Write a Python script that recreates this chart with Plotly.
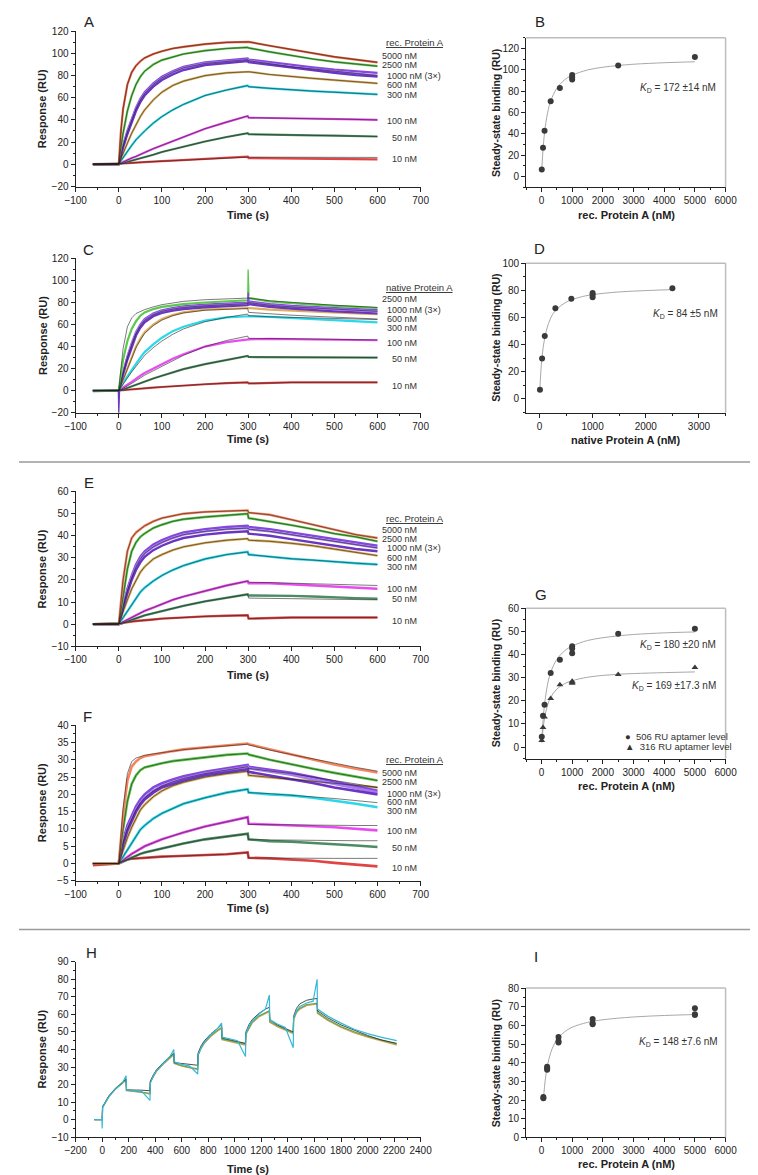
import plotly.graph_objects as go

W, H = 758, 1175
FONT = "Liberation Sans, Arial, sans-serif"

# ---------------- sensorgram time grid (s) ----------------
T = [-60, 0, 5, 10, 20, 30, 40, 50, 60, 80, 100, 125, 150, 200, 250, 299, 301, 350, 400, 450, 500, 550, 600]
CONC_LABELS = ["5000 nM", "2500 nM", "1000 nM (3×)", "600 nM", "300 nM", "100 nM", "50 nM", "10 nM"]
C_LABELS = ["2500 nM", "1000 nM (3×)", "600 nM", "300 nM", "100 nM", "50 nM", "10 nM"]

# ---------------- Panel A (rec. Protein A) ----------------
A_5000 = [0, 0, 30, 50, 72, 83, 89, 93, 96, 99.5, 102, 104.5, 106, 108.5, 110, 111, 110.5, 107, 103.5, 100, 97, 94.5, 92]
A_2500 = [0, 0, 15, 28, 48, 62, 72, 79, 84, 90, 94, 97, 99.5, 102.5, 104.5, 105.5, 105, 101.5, 98, 95, 92.5, 90.5, 88.5]
A_1000a = [0, 0, 9, 17, 30, 41, 51, 59, 65, 73, 79, 84, 88, 92, 94, 95.5, 94.5, 92, 89.5, 87.5, 85.5, 84, 82.5]
A_1000b = [0, 0, 8, 16, 29, 40, 50, 58, 64, 72, 78, 83, 87, 91, 93, 94.5, 93.5, 90.5, 88, 86, 84, 82, 80]
A_1000c = [-0.5, 0, 7, 15, 27, 38, 48, 56, 62, 70, 76, 81, 85, 89.5, 91.5, 93, 92, 89.5, 87, 84.5, 82.5, 80.5, 79]
A_600 = [0, 0, 5, 10, 19, 28, 36, 43, 49, 58, 65, 71, 75, 80, 82.5, 84, 83.5, 81, 79, 77.5, 76, 74.5, 73]
A_300 = [0, 0, 3, 6, 12, 17, 22, 26, 30, 37, 43, 49, 54, 62, 67, 71, 70, 68.5, 67, 66, 65, 64, 63]
A_100 = [0, 0, 1, 2, 3.5, 5.5, 7, 9, 10.5, 14, 17, 21, 25, 32, 38, 43.5, 42, 41.8, 41.5, 41, 40.8, 40.4, 40]
A_50 = [0, 0, 0.5, 1, 2, 3, 4, 5, 6, 8.5, 11, 13.5, 16, 20.5, 24.5, 28, 27, 26.5, 26.2, 26, 25.7, 25.4, 25]
A_10 = [-0.5, 0, 0.2, 0.5, 0.8, 1.2, 1.5, 1.8, 2, 2.3, 2.7, 3.2, 3.7, 4.7, 5.7, 6.8, 5.5, 5.3, 5.1, 5, 4.8, 4.6, 4.4]
A_10_FIT = [0, 0, 0.2, 0.5, 0.8, 1.2, 1.5, 1.8, 2, 2.3, 2.7, 3.2, 3.7, 4.7, 5.7, 6.5, 6.4, 6.3, 6.3, 6.2, 6.2, 6.1, 6.1]

# ---------------- Panel C (native Protein A) ----------------
C_2500 = [0, 0, 15, 28, 45, 56, 63, 68, 71, 74, 76, 77.5, 78.5, 80, 81, 82, 84, 81, 79.5, 78, 77, 76, 75]
C_2500_FIT = [0, 0, 20, 38, 58, 66, 70, 72, 73.5, 76, 78, 79.5, 81, 82.5, 83.5, 84.5, 84, 81.5, 80, 78.5, 77.5, 76.5, 75.5]
C_1000a = [0, 0, 9, 17, 31, 43, 53, 60, 65, 70, 73, 75, 76.5, 78, 79, 80, 81, 78.5, 77, 76, 75, 74, 73]
C_1000b = [0, 0, 8, 16, 30, 42, 52, 59, 64, 69, 72, 74, 75.5, 77, 78, 79, 80, 77.5, 76, 75, 74, 73, 72]
C_1000c = [-0.5, 0, 7, 15, 28, 40, 50, 57, 62, 67.5, 70.5, 72.5, 74, 75.5, 76.5, 77.5, 78.5, 76, 74.5, 73, 72, 71, 70]
C_600 = [0, 0, 5, 10, 20, 30, 40, 47, 53, 60, 65, 68.5, 71, 73.5, 74.5, 75.5, 75, 73.5, 72.5, 71.5, 71, 70, 69.5]
C_600_FIT = [0, 0, 5, 10, 20, 30, 39, 46, 52, 59, 64, 68, 70.5, 73, 74, 74.5, 71, 69.5, 68.5, 67.5, 66.5, 65.5, 65]
C_300 = [0, 0, 3, 7, 13, 19, 25, 30, 35, 42, 48, 54, 58, 63.5, 66.5, 68, 67.5, 67, 66, 65, 64, 63, 62]
C_300_FIT = [0, 0, 3, 6, 12, 17, 22, 27, 32, 39, 45, 51, 56, 62.5, 66.5, 69.5, 68, 67, 66.5, 66, 65.5, 65, 64.5]
C_100 = [0, 0, 1.5, 3, 5.5, 8, 11, 13.5, 16, 20, 24, 29, 33, 40, 44, 47, 46.5, 47, 46.7, 46.5, 46.2, 46, 45.7]
C_100_FIT = [0, 0, 1, 2, 4, 6.5, 9, 11.5, 14, 18, 22, 27, 32, 40, 45.5, 49.5, 47.5, 47.3, 47, 46.8, 46.5, 46.3, 46]
C_50 = [0, 0, 0.5, 1, 2.5, 4, 5.5, 7, 8.5, 11, 13.5, 16.5, 19.5, 24, 28, 31.5, 30.5, 30.5, 30.3, 30.2, 30.1, 30, 30]
C_10 = [0, 0, 0.2, 0.4, 0.8, 1.2, 1.6, 2, 2.3, 2.8, 3.3, 4, 4.6, 5.8, 6.8, 7.5, 6.5, 7.2, 7.4, 7.5, 7.5, 7.5, 7.5]
C_SPIKE_T = [299, 300, 302]
C_SPIKE_2500 = [82, 110, 86]
C_SPIKE_1000 = [79, 89, 81]
C_DIP_T = [-1, 0, 2]
C_DIP = [0, -20, 2]

# ---------------- Panel E (rec. Protein A, 506 RU) ----------------
E_5000 = [0, 0, 10, 20, 33, 39, 41.5, 43, 44.5, 46.5, 48, 49, 50, 50.8, 51, 51.5, 50.5, 49.5, 47.3, 45, 42.8, 40.5, 39]
E_2500 = [0, 0, 6, 13, 25, 33, 37, 39.5, 41, 43.5, 45, 46.5, 47.5, 48.5, 49.2, 50, 48, 46.5, 44.8, 43, 41, 39.5, 37.5]
E_1000a = [0, 0, 4.5, 8.5, 16, 22, 27, 30.5, 33, 36, 38, 40, 41.5, 43, 44, 44.5, 44, 43, 41.5, 40, 38.5, 37, 35.5]
E_1000b = [0, 0, 4, 8, 15, 21, 26, 29.5, 32, 35, 37, 39, 40.5, 42, 43, 43.5, 43, 42, 40.5, 39, 37.5, 36, 34.5]
E_1000c = [0, 0, 3.5, 7.5, 14, 20, 24.5, 28, 30.5, 33.5, 35.5, 37.5, 39, 40.5, 41.5, 42, 41, 40, 38.5, 37, 35.5, 34, 33]
E_600 = [0, 0, 3, 6, 11, 16, 20, 23.5, 26, 29.5, 31.5, 33.5, 35, 36.8, 38, 38.7, 38, 37.5, 36.6, 35.5, 34, 32.5, 31]
E_300 = [0, 0, 1.5, 3, 6, 9, 12, 14.5, 16.5, 19.5, 22, 24.5, 26.5, 29.5, 31.5, 32.7, 31.5, 30.5, 29.6, 29, 28.2, 27.6, 27]
E_100 = [0, 0, 0.5, 1, 2, 3, 4, 5, 6, 7.5, 9, 11, 12.5, 15, 17.5, 19.5, 18.5, 18.5, 18, 17.5, 17, 16.5, 16]
E_100_FIT = [0, 0, 0.5, 1, 2, 3, 4, 5, 6, 7.5, 9, 11, 12.5, 15, 17.5, 19.5, 19, 18.8, 18.5, 18.2, 18, 17.8, 17.5]
E_50 = [0, 0, 0.3, 0.6, 1.2, 2, 2.7, 3.3, 4, 5, 5.8, 7, 8.3, 10.3, 12, 13.5, 13, 13, 12.8, 12.5, 12, 11.8, 11.5]
E_50_FIT = [0, 0, 0.3, 0.6, 1.2, 2, 2.7, 3.3, 4, 5, 5.8, 7, 8.3, 10.3, 12, 13.5, 11.8, 11.7, 11.6, 11.4, 11.3, 11.1, 11]
E_10 = [0, 0, 0.3, 0.6, 1, 1.2, 1.4, 1.5, 1.7, 2.1, 2.5, 2.8, 3, 3.5, 3.8, 4, 2.5, 2.8, 3, 3, 3, 3, 3]

# ---------------- Panel F (rec. Protein A, 316 RU) ----------------
F_5000 = [0, 0, 7, 14, 24, 28, 29.5, 30.5, 31, 31.5, 32, 32.5, 33, 33.5, 34, 34.7, 34.5, 33, 31.5, 30, 28.6, 27.4, 26.3]
F_5000_FIT = [0, 0, 8, 16, 26, 29.5, 30.5, 31, 31.3, 31.7, 32.1, 32.5, 32.9, 33.5, 34, 34.5, 34.3, 32.8, 31.5, 30.2, 29, 27.8, 26.7]
F_2500 = [0, 0, 5, 10, 18, 23, 25.5, 27, 27.8, 28.5, 29, 29.6, 30, 30.8, 31.4, 31.8, 31.5, 30, 28.6, 27.4, 26.2, 25, 24]
F_1000a = [0, 0, 3.5, 6.5, 11, 14, 16.5, 18.5, 20, 22, 23.2, 24.3, 25.2, 26.5, 27.5, 28.5, 28, 27.2, 26.2, 25, 23.6, 22.3, 21]
F_1000b = [0, 0, 3, 6, 10, 13, 15.5, 17.6, 19, 21, 22.4, 23.6, 24.6, 26, 27, 28, 27.5, 26.7, 25.7, 24.3, 23, 21.7, 20.5]
F_1000c = [0, 0, 2.8, 5.5, 9.5, 12.5, 15, 17, 18.5, 20.5, 22, 23, 24, 25.5, 26.5, 27.3, 26.5, 25.5, 24.5, 23.3, 22, 21, 20]
F_1000_FIT = [0, 0, 3, 6, 10, 13, 15.5, 17.6, 19, 21, 22.4, 23.6, 24.6, 26, 27, 28, 27.5, 26.8, 26, 25, 24, 23, 22]
F_600 = [0, 0, 2, 4, 7.5, 10.5, 13, 15.5, 17, 19.3, 21, 22.5, 23.5, 25, 26, 26.7, 25.5, 25, 24.5, 23.8, 23.2, 22.6, 22]
F_300 = [0, 0, 1, 2, 4, 6, 8, 9.8, 11, 13, 14.5, 16, 17.3, 19, 20.5, 21.5, 20.5, 20, 19.7, 19, 18.2, 17.3, 16.3]
F_300_FIT = [0, 0, 1, 2, 4, 6, 8, 9.8, 11, 13, 14.5, 16, 17.3, 19, 20.5, 21.5, 20.5, 20.2, 19.8, 19.3, 18.8, 18.2, 17.6]
F_100 = [0, 0, 0.5, 1, 2, 2.8, 3.5, 4.3, 5, 6, 7, 8, 9, 10.7, 12, 13.4, 11.5, 11.2, 11, 10.8, 10.5, 10, 9.6]
F_100_FIT = [0, 0, 0.5, 1, 2, 2.8, 3.5, 4.3, 5, 6, 7, 8, 9, 10.7, 12, 13.4, 11.3, 11.2, 11.2, 11.1, 11.1, 11, 11]
F_50 = [0, 0, 0.3, 0.6, 1.2, 1.8, 2.3, 2.8, 3.2, 3.8, 4.3, 5, 5.8, 7, 7.8, 8.6, 7, 6.5, 6.3, 6, 5.7, 5.2, 4.8]
F_50_FIT = [0, 0, 0.3, 0.6, 1.2, 1.8, 2.3, 2.8, 3.2, 3.8, 4.3, 5, 5.8, 7, 7.8, 8.6, 6.9, 6.8, 6.8, 6.7, 6.7, 6.6, 6.6]
F_10 = [-0.5, 0, 0.5, 0.8, 1.2, 1.4, 1.5, 1.7, 1.8, 1.9, 2, 2.1, 2.2, 2.4, 2.7, 3.2, 1.7, 1.5, 1.2, 0.8, 0.2, -0.3, -0.8]
F_10_FIT = [0, 0, 0.5, 0.8, 1.2, 1.4, 1.5, 1.7, 1.8, 1.9, 2, 2.1, 2.2, 2.4, 2.7, 3.2, 1.6, 1.6, 1.5, 1.5, 1.5, 1.5, 1.5]

# ---------------- Panel H (single-cycle kinetics) ----------------
TH = [-60, -2, 0, 3, 25, 50, 100, 150, 180, 183, 250, 300, 360, 363, 385, 410, 460, 510, 540,
      543, 600, 660, 720, 723, 745, 770, 820, 870, 900, 903, 960, 1020, 1080, 1083, 1105, 1130,
      1180, 1230, 1260, 1263, 1320, 1380, 1440, 1443, 1465, 1490, 1540, 1590, 1620, 1623, 1700,
      1800, 1900, 2000, 2100, 2220]
H_CYAN = [0, 0, -5, 7, 10, 13, 17.5, 20.5, 25, 17, 16.5, 16, 11, 21, 25, 28, 32, 36, 40,
          33, 31.5, 30.5, 26, 37, 41, 44, 48.5, 52, 55, 47, 46, 45, 36, 49, 53, 56,
          60, 63, 71, 57, 54.5, 52.5, 41, 58, 62, 64.5, 66.5, 67.5, 80, 63, 59,
          55, 51.5, 49, 47, 45]
H_ORANGE = [0, 0, 0, 7, 10, 13, 17.5, 20.5, 22.5, 16.5, 16, 15.5, 14.5, 21, 24.5, 27.5, 31.5, 35, 37,
            32, 30.5, 29.5, 28.5, 36.5, 40.5, 43.5, 47.5, 50.5, 52, 45.5, 44.5, 43.5, 42.5, 48.5, 52, 55,
            58.5, 60.5, 61.5, 55.5, 53, 51, 49, 57, 61, 63, 65, 65.5, 66, 60.5, 56.5,
            52.5, 49.5, 47, 45, 42.5]
H_GREEN = [0, 0, 0, 7, 10.3, 13.3, 17.8, 20.8, 23, 16.8, 16.2, 15.7, 15, 21.5, 25, 28, 32, 35.5, 37.5,
           32.3, 30.8, 29.8, 29, 37, 41, 44, 48, 51, 52.5, 46, 45, 44, 43, 49, 52.5, 55.5,
           59, 61, 62, 56, 53.5, 51.5, 49.5, 57.5, 61.5, 63.5, 65.5, 66, 66.3, 61, 57,
           53, 50, 47.5, 45.3, 43]
H_FIT = [0, 0, 0, 7.5, 10.5, 13.5, 17.5, 21, 23, 17, 17, 16.8, 16.5, 22, 25.5, 28.5, 32.5, 36, 38,
         32.5, 32, 31.5, 31, 38, 42, 45, 49, 52, 54, 46.5, 45.5, 44.5, 43.5, 50, 54, 57,
         60.5, 63, 64, 57, 54, 52, 50, 59, 63.5, 66, 68, 68.8, 69, 62, 58,
         54, 51, 48, 45.5, 43.5]

# ---------------- steady-state panels ----------------
B_CONC = [10, 50, 100, 300, 600, 1000, 1000, 1000, 2500, 5000]
B_RESP = [6.5, 27, 43, 70.5, 83, 91, 93, 95, 104, 112]
B_FIT_X = [10, 25, 50, 100, 200, 300, 500, 750, 1000, 1500, 2000, 2500, 3000, 4000, 5000]
B_FIT_Y = [6.1, 14.1, 25.0, 40.9, 59.8, 70.7, 82.7, 90.5, 94.9, 99.8, 102.4, 104.0, 105.2, 106.6, 107.5]

D_CONC = [10, 50, 100, 300, 600, 1000, 1000, 1000, 2500]
D_RESP = [6.8, 29.8, 46.3, 66.8, 73.7, 78, 76.8, 74.9, 81.5]
D_FIT_X = [10, 25, 50, 100, 200, 300, 500, 750, 1000, 1500, 2000, 2500]
D_FIT_Y = [8.9, 19.1, 31.0, 45.2, 58.6, 65.0, 71.2, 74.8, 76.8, 78.8, 79.8, 80.5]

G_CONC = [10, 50, 100, 300, 600, 1000, 1000, 1000, 2500, 5000]
G_RESP_506 = [4.5, 13.5, 18.3, 32, 37.8, 43.6, 42.6, 40.6, 49, 51.2]
G_RESP_316 = [2.8, 8.5, 13, 21, 27, 28.5, 28, 27.6, 31.4, 34.4]
G_FIT_X = [10, 25, 50, 100, 200, 300, 500, 750, 1000, 1500, 2000, 2500, 3000, 4000, 5000]
G_FIT_506 = [2.7, 6.3, 11.2, 18.4, 27.2, 32.3, 37.9, 41.6, 43.7, 46.1, 47.3, 48.1, 48.7, 49.4, 49.8]
G_FIT_316 = [1.9, 4.3, 7.7, 12.5, 18.2, 21.5, 25.1, 27.4, 28.7, 30.2, 31.0, 31.5, 31.8, 32.2, 32.5]

I_CONC = [61.7, 61.7, 185, 185, 185, 556, 556, 556, 1667, 1667, 1667, 5000, 5000, 5000]
I_RESP = [21.7, 21.0, 37.9, 37.0, 36.2, 53.8, 51.7, 50.8, 63.4, 61.2, 60.6, 69.2, 65.9, 65.5]
I_FIT_X = [60, 100, 150, 200, 300, 400, 556, 750, 1000, 1500, 2000, 3000, 4000, 5000]
I_FIT_Y = [19.5, 27.3, 34.1, 38.9, 45.3, 49.4, 53.5, 56.5, 59.0, 61.6, 63.0, 64.5, 65.3, 65.8]

# ---------------- colours ----------------
COL_5000 = "#e8603f"
COL_5000F = "#f7845f"
COL_2500 = "#5cc84c"
COL_1000 = ["#8447e0", "#a77cf0", "#6a35c0"]
COL_600 = "#dcae5c"
COL_300 = "#2ad8ea"
COL_100 = "#e84cf0"
COL_50 = "#4c8c62"
COL_10 = "#e04444"
COL_FIT = "#222222"
COL_PT = "#3a3a3a"
COL_CURVE = "#a8a8a8"

fig = go.Figure()


def xd(a, b):
    return [a / W, b / W]


def yd(top, bottom):
    return [1 - bottom / H, 1 - top / H]


def line(xs, ys, ax, color, width=1.3, shape="linear"):
    fig.add_trace(go.Scatter(x=xs, y=ys, mode="lines", xaxis="x" + ax, yaxis="y" + ax,
                             line=dict(color=color, width=width, shape=shape),
                             showlegend=False, hoverinfo="skip"))


def pts(xs, ys, ax, symbol="circle"):
    fig.add_trace(go.Scatter(x=xs, y=ys, mode="markers", xaxis="x" + ax, yaxis="y" + ax,
                             marker=dict(color=COL_PT, size=6, symbol=symbol),
                             showlegend=False, hoverinfo="skip"))


# Panel A
for vals, col in [(A_10, COL_10), (A_50, COL_50), (A_100, COL_100), (A_300, COL_300),
                  (A_600, COL_600), (A_1000a, COL_1000[0]), (A_1000b, COL_1000[1]),
                  (A_1000c, COL_1000[2]), (A_2500, COL_2500), (A_5000, COL_5000)]:
    line(T, vals, "", col, 2.2)
for vals in [A_10_FIT, A_50, A_100, A_300, A_600, A_1000b, A_2500, A_5000]:
    line(T, vals, "", COL_FIT, 0.6)

# Panel C
for vals, col in [(C_10, COL_10), (C_50, COL_50), (C_100, COL_100), (C_300, COL_300),
                  (C_600, COL_600), (C_1000a, COL_1000[0]), (C_1000b, COL_1000[1]),
                  (C_1000c, COL_1000[2]), (C_2500, COL_2500)]:
    line(T, vals, "3", col, 2.2)
line(C_SPIKE_T, C_SPIKE_2500, "3", COL_2500, 1.3)
line(C_SPIKE_T, C_SPIKE_1000, "3", COL_1000[0], 1.3)
line(C_DIP_T, C_DIP, "3", COL_1000[2], 1.3)
for vals in [C_10, C_50, C_100_FIT, C_300_FIT, C_600_FIT, C_1000b, C_2500_FIT]:
    line(T, vals, "3", COL_FIT, 0.6)

# Panel E
for vals, col in [(E_10, COL_10), (E_50, COL_50), (E_100, COL_100), (E_300, COL_300),
                  (E_600, COL_600), (E_1000a, COL_1000[0]), (E_1000b, COL_1000[1]),
                  (E_1000c, COL_1000[2]), (E_2500, COL_2500), (E_5000, COL_5000F)]:
    line(T, vals, "5", col, 2.4)
for vals in [E_10, E_50_FIT, E_100_FIT, E_300, E_600, E_1000b, E_2500, E_5000]:
    line(T, vals, "5", COL_FIT, 0.6)

# Panel F
for vals, col in [(F_10, COL_10), (F_50, COL_50), (F_100, COL_100), (F_300, COL_300),
                  (F_600, COL_600), (F_1000a, COL_1000[0]), (F_1000b, COL_1000[1]),
                  (F_1000c, COL_1000[2]), (F_2500, COL_2500), (F_5000, COL_5000F)]:
    line(T, vals, "6", col, 2.6)
for vals in [F_10_FIT, F_50_FIT, F_100_FIT, F_300_FIT, F_600, F_1000_FIT, F_2500, F_5000_FIT]:
    line(T, vals, "6", COL_FIT, 0.6)

# Panel H
line(TH, H_ORANGE, "8", "#e0a060", 1.3)
line(TH, H_GREEN, "8", "#6aa84f", 1.3)
line(TH, H_FIT, "8", COL_FIT, 0.8)
line(TH, H_CYAN, "8", "#35b8dc", 1.2)

# Steady-state panels
line(B_FIT_X, B_FIT_Y, "2", COL_CURVE, 1, "spline")
pts(B_CONC, B_RESP, "2")
line(D_FIT_X, D_FIT_Y, "4", COL_CURVE, 1, "spline")
pts(D_CONC, D_RESP, "4")
line(G_FIT_X, G_FIT_506, "7", COL_CURVE, 1, "spline")
line(G_FIT_X, G_FIT_316, "7", COL_CURVE, 1, "spline")
pts(G_CONC, G_RESP_506, "7")
pts(G_CONC, G_RESP_316, "7", "triangle-up")
line(I_FIT_X, I_FIT_Y, "9", COL_CURVE, 1, "spline")
pts(I_CONC, I_RESP, "9")

# ---------------- axes ----------------
TICKFONT = dict(family=FONT, size=10, color="#222")


def axis(domain, rng, dtick, mdtick, anchor):
    return dict(domain=domain, range=rng, dtick=dtick, tick0=0, showline=True, linecolor="#222",
                linewidth=1, ticks="outside", ticklen=4, tickwidth=1, tickcolor="#222",
                showgrid=False, zeroline=False, tickfont=TICKFONT, anchor=anchor,
                minor=dict(ticks="outside", ticklen=2, dtick=mdtick, tickcolor="#222", showgrid=False))


LX = xd(58.3, 414.3)
RX = xd(523, 728.7)
panels = {
    "":  (LX, yd(17.3, 174.3), [-100.3, 700.3], 100, 50, [-20.2, 120.2], 20, 10),
    "3": (LX, yd(246.7, 403), [-100.3, 700.3], 100, 50, [-20.2, 120.2], 20, 10),
    "5": (LX, yd(482.3, 639), [-100.3, 700.3], 100, 50, [-10.1, 60.1], 10, 5),
    "6": (LX, yd(718.3, 876), [-100.3, 700.3], 100, 50, [-5.05, 40.05], 5, 2.5),
    "8": (LX, yd(957.3, 1135), [-201, 2401], 200, 100, [-10.1, 90.1], 10, 5),
    "2": (RX, yd(24, 175), [-500, 6000], 1000, 500, [-10, 130], 20, 10),
    "4": (RX, yd(251.7, 402.7), [-250, 3500], 1000, 500, [-10, 100], 20, 10),
    "7": (RX, yd(600.5, 752.3), [-500, 6000], 1000, 500, [-5, 60], 10, 5),
    "9": (RX, yd(984, 1135), [-500, 6000], 1000, 500, [0, 80.05], 10, 5),
}
layout_axes = {}
for k, (xdom, ydom, xr, xdt, xm, yr, ydt, ym) in panels.items():
    layout_axes["xaxis" + k] = axis(xdom, xr, xdt, xm, "y" + k)
    layout_axes["yaxis" + k] = axis(ydom, yr, ydt, ym, "x" + k)

fig.update_layout(**layout_axes)

# ---------------- annotations ----------------
anns = []


def ann(x, y, text, size=10, xanchor="center", bold=False, angle=0, color="#222"):
    if bold:
        text = "<b>" + text + "</b>"
    anns.append(dict(x=x / W, y=1 - y / H, xref="paper", yref="paper", text=text, showarrow=False,
                     xanchor=xanchor, yanchor="middle", textangle=angle,
                     font=dict(family=FONT, size=size, color=color)))


# panel letters
for letter, x, y in [("A", 72, 8), ("B", 537, 8), ("C", 72, 238), ("D", 537, 237),
                     ("E", 72, 473), ("F", 71, 710), ("G", 538, 586), ("H", 75, 948), ("I", 533, 952)]:
    ann(x, y, letter, size=15)

# left-panel titles
for yc in [96, 325, 561, 797, 1046]:
    ann(24, yc, "Response (RU)", size=11, bold=True, angle=-90)
for yc in [203, 429, 668, 903, 1167]:
    ann(236, yc, "Time (s)", size=11, bold=True)

# right-panel titles
for yc in [100, 327, 676, 1060]:
    ann(492, yc, "Steady-state binding (RU)", size=10.5, bold=True, angle=-90)
for yc, xt in [(203, "rec. Protein A (nM)"), (430, "native Protein A (nM)"),
               (780, "rec. Protein A (nM)"), (1162, "rec. Protein A (nM)")]:
    ann(626, yc, xt, size=11, bold=True)

# K_D labels
KD = "<i>K</i><sub>D</sub> = "
ann(680, 75, KD + "172 ±14 nM", size=10, color="#333")
ann(687, 303, KD + "84 ±5 nM", size=10, color="#333")
ann(680, 638, KD + "180 ±20 nM", size=10, color="#333")
ann(676, 679, KD + "169 ±17.3 nM", size=10, color="#333")
ann(680, 1039, KD + "148 ±7.6 nM", size=10, color="#333")

# G legend (text glyphs)
ann(623, 729.5, "●  506 RU aptamer level", size=9.5, xanchor="left", color="#333")
ann(623, 740.5, "▲  316 RU aptamer level", size=9.5, xanchor="left", color="#333")


# concentration labels
def conc_block(title, title_y, labels, ys):
    ann(376.5, title_y, "<u>" + title + "</u>", size=9.5, xanchor="left", color="#333")
    for lab, yy in zip(labels, ys):
        if "(3" in lab:
            ann(377.5, yy, lab, size=9, xanchor="left", color="#333")
        else:
            ann(412.5, yy, lab, size=9, xanchor="right", color="#333")


conc_block("rec. Protein A", 29, CONC_LABELS, [42.3, 51.7, 62.3, 72, 82, 108.3, 125, 146.7])
conc_block("native Protein A", 276, C_LABELS, [288.3, 299, 308.3, 317.7, 332.3, 349, 375.7])
conc_block("rec. Protein A", 510, CONC_LABELS, [521.7, 530.7, 539.8, 549.3, 558.7, 581, 590.7, 613.3])
conc_block("rec. Protein A", 752.7, CONC_LABELS, [767.3, 775.5, 787.8, 796.5, 805, 825.7, 842.3, 862.7])

# ---------------- shapes ----------------
shapes = []
for k in ["2", "4", "7", "9"]:
    xr = "x" + k + " domain"
    yr = "y" + k + " domain"
    shapes.append(dict(type="line", xref=xr, yref=yr, x0=0, x1=1, y0=1, y1=1,
                       line=dict(color="#bdbdbd", width=1.5)))
    shapes.append(dict(type="line", xref=xr, yref=yr, x0=1, x1=1, y0=0, y1=1,
                       line=dict(color="#bdbdbd", width=1.5)))
for yy in [452.7, 925]:
    shapes.append(dict(type="line", xref="paper", yref="paper", x0=0, x1=756 / W,
                       y0=1 - yy / H, y1=1 - yy / H, line=dict(color="#9a9a9a", width=1.5)))

fig.update_layout(width=W, height=H, margin=dict(l=0, r=0, t=0, b=0),
                  paper_bgcolor="white", plot_bgcolor="white",
                  annotations=anns, shapes=shapes, showlegend=False,
                  font=dict(family=FONT))

fig.write_html("out.html")
